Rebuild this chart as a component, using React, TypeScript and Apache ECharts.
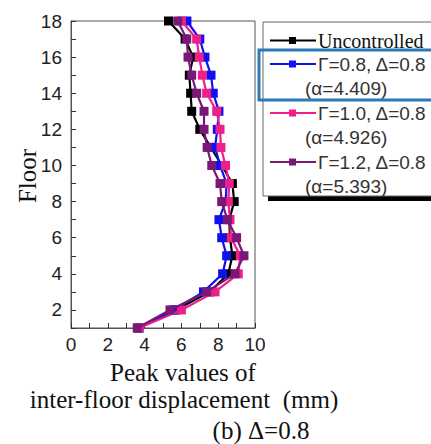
import React, { useEffect, useRef } from "react";
import * as echarts from "echarts";

const floors = [1, 2, 3, 4, 5, 6, 7, 8, 9, 10, 11, 12, 13, 14, 15, 16, 17, 18];
const uncontrolled = [3.65, 5.7, 7.55, 8.55, 8.77, 8.64, 8.6, 8.87, 8.77, 8.2, 7.6, 7.0, 6.56, 6.5, 6.43, 6.64, 6.2, 5.3];
const g08 = [3.7, 5.56, 7.2, 8.24, 8.46, 8.19, 8.04, 8.4, 8.46, 8.1, 7.83, 7.95, 8.04, 7.73, 7.61, 7.28, 7.0, 6.3];
const g10 = [3.7, 6.0, 7.83, 9.09, 9.2, 8.7, 8.64, 8.55, 8.6, 8.4, 8.15, 8.1, 7.92, 7.37, 7.14, 6.97, 6.83, 6.0];
const g12 = [3.6, 5.38, 7.37, 8.91, 9.4, 9.0, 8.5, 8.19, 8.1, 7.65, 7.4, 7.23, 7.23, 6.83, 6.56, 6.36, 6.29, 5.8];

const seriesNames = ["Uncontrolled", "Γ=0.8, Δ=0.8", "Γ=1.0, Δ=0.8", "Γ=1.2, Δ=0.8"];
const seriesNotes = ["", "(α=4.409)", "(α=4.926)", "(α=5.393)"];
const seriesColors = ["#000000", "#1010ee", "#ee1f8c", "#7a1878"];
const seriesValues = [uncontrolled, g08, g10, g12];

const xTitle1 = "Peak values of";
const xTitle2 = "inter-floor displacement  (mm)";
const yTitle = "Floor";
const caption = "(b) Δ=0.8";

const SERIF = "'Liberation Serif', 'Times New Roman', serif";
const SANS = "'Liberation Sans', Arial, sans-serif";

export default function App() {
  const ref = useRef<HTMLDivElement>(null);
  useEffect(() => {
    if (!ref.current) return;
    const chart = echarts.init(ref.current, undefined, { renderer: "svg" });

    const series = seriesValues.map((vals, i) => ({
      name: seriesNames[i],
      type: "line",
      data: vals.map((v, k) => [v, floors[k]]),
      symbol: "rect",
      symbolSize: 9,
      lineStyle: { color: seriesColors[i], width: 2.2 },
      itemStyle: { color: seriesColors[i] },
      z: 2 + i,
    }));

    const legendGraphics: any[] = [
      { type: "rect", shape: { x: 268, y: 196, width: 170, height: 5 }, style: { fill: "#000" }, z: 10 },
      { type: "rect", shape: { x: 263, y: 22, width: 175, height: 174 }, style: { fill: "#fff", stroke: "#666", lineWidth: 1 }, z: 11 },
      { type: "rect", shape: { x: 259, y: 50, width: 175, height: 50 }, style: { fill: "none", stroke: "#2a7ab8", lineWidth: 3 }, z: 13 },
    ];
    seriesNames.forEach((name, i) => {
      const y = i === 0 ? 40.5 : 64 + (i - 1) * 49;
      legendGraphics.push(
        { type: "line", shape: { x1: 270, y1: y, x2: 316, y2: y }, style: { stroke: seriesColors[i], lineWidth: 2 }, z: 12 },
        { type: "rect", shape: { x: 289, y: y - 3.5, width: 7, height: 7 }, style: { fill: seriesColors[i] }, z: 12 },
        {
          type: "text",
          x: 318,
          y,
          style: {
            text: name,
            fill: i === 0 ? "#111" : "#333",
            font: i === 0 ? `20px ${SERIF}` : `19px ${SANS}`,
            textVerticalAlign: "middle",
            textAlign: "left",
          },
          z: 12,
        }
      );
      if (seriesNotes[i]) {
        legendGraphics.push({
          type: "text",
          x: 305,
          y: y + 24.5,
          style: {
            text: seriesNotes[i],
            fill: "#333",
            font: `19px ${SANS}`,
            textVerticalAlign: "middle",
            textAlign: "left",
          },
          z: 12,
        });
      }
    });

    const titleGraphics: any[] = [
      { type: "text", x: 183, y: 372, style: { text: xTitle1, font: `25px ${SERIF}`, fill: "#111", textAlign: "center", textVerticalAlign: "middle" } },
      { type: "text", x: 184, y: 399, style: { text: xTitle2, font: `25px ${SERIF}`, fill: "#111", textAlign: "center", textVerticalAlign: "middle" } },
      { type: "text", x: 261, y: 430, style: { text: caption, font: `25px ${SERIF}`, fill: "#111", textAlign: "center", textVerticalAlign: "middle" } },
      { type: "text", x: 27, y: 176, rotation: Math.PI / 2, style: { text: yTitle, font: `25px ${SERIF}`, fill: "#111", textAlign: "center", textVerticalAlign: "middle" } },
    ];

    chart.setOption({
      animation: false,
      textStyle: { fontFamily: SANS },
      grid: { left: 71, top: 21, width: 184, height: 307, show: true, borderColor: "#555", borderWidth: 1, backgroundColor: "transparent" },
      xAxis: {
        type: "value",
        min: 0,
        max: 10,
        interval: 1,
        axisLine: { lineStyle: { color: "#555", width: 1 } },
        axisTick: { inside: true, length: 5, lineStyle: { color: "#333" } },
        axisLabel: { fontSize: 19, color: "#222", margin: 7, fontFamily: SANS, formatter: (v: number) => (v % 2 === 0 ? String(v) : "") },
        splitLine: { show: false },
      },
      yAxis: {
        type: "value",
        min: 1,
        max: 18,
        interval: 1,
        axisLine: { lineStyle: { color: "#555", width: 1 } },
        axisTick: { inside: true, length: 5, lineStyle: { color: "#333" } },
        axisLabel: { fontSize: 19, color: "#222", margin: 9, fontFamily: SANS, formatter: (v: number) => (v % 2 === 0 ? String(v) : "") },
        splitLine: { show: false },
      },
      series,
      graphic: [...titleGraphics, ...legendGraphics],
    });
    return () => chart.dispose();
  }, []);
  return <div ref={ref} style={{ position: "fixed", left: 0, top: 0, width: 431, height: 444, background: "#fff" }} />;
}
